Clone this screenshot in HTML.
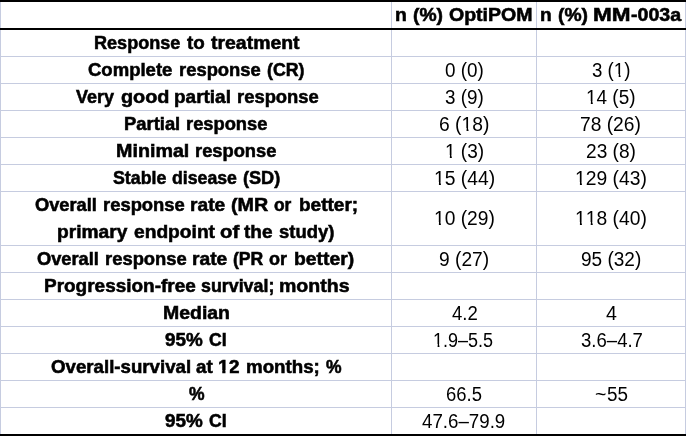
<!DOCTYPE html>
<html><head><meta charset="utf-8"><title>Table</title>
<style>
html,body{margin:0;padding:0;background:#fff;}
body{width:686px;height:436px;position:relative;overflow:hidden;font-family:"Liberation Sans",sans-serif;color:#000;}
.h{position:absolute;left:0;width:686px;height:1px;background:#c6cce0;}
.v{position:absolute;top:0;height:436px;width:1px;background:#c6cce0;}
.k{position:absolute;left:0;width:686px;height:2px;background:#000;}
#txt{position:absolute;left:0;top:0;width:686px;height:436px;will-change:transform;filter:grayscale(1);}
.t{position:absolute;white-space:nowrap;transform-origin:0 0;font-size:19.6px;line-height:26.6px;height:26.6px;}
.b{font-weight:bold;font-size:18.2px;line-height:28px;height:28px;-webkit-text-stroke:0.55px #000;}
.o,.ob{position:relative;display:inline-block;}
.o::before,.o::after,.ob::before,.ob::after{content:"";position:absolute;background:#fff;}
.o::before{left:0;width:0.2515em;top:17.2px;height:3.6px;}
.o::after{left:0.3398em;width:0.235em;top:17.2px;height:3.6px;}
.ob::before{left:-0.3px;width:calc(0.2334em - 0.275px + 0.3px);top:17px;height:3.9px;}
.ob::after{left:calc(0.3706em + 0.275px);width:0.21em;top:17px;height:3.9px;}
</style></head><body>

<div class="h" style="top:56px"></div>
<div class="h" style="top:83px"></div>
<div class="h" style="top:110px"></div>
<div class="h" style="top:137px"></div>
<div class="h" style="top:164px"></div>
<div class="h" style="top:191px"></div>
<div class="h" style="top:245px"></div>
<div class="h" style="top:272px"></div>
<div class="h" style="top:299px"></div>
<div class="h" style="top:326px"></div>
<div class="h" style="top:353px"></div>
<div class="h" style="top:380px"></div>
<div class="h" style="top:407px"></div>
<div class="v" style="left:0px"></div>
<div class="v" style="left:391px"></div>
<div class="v" style="left:536px"></div>
<div class="v" style="left:685px"></div>
<div class="k" style="top:0px"></div>
<div class="k" style="top:28px"></div>
<div class="k" style="top:434px"></div>
<div id="txt">
<div class="t b" style="left:395.10px;top:1px;transform:scaleX(1.0632)">n</div>
<div class="t b" style="left:412.87px;top:1px;transform:scaleX(1.0606)">(%)</div>
<div class="t b" style="left:448.56px;top:1px;transform:scaleX(1.0732)">OptiPOM</div>
<div class="t b" style="left:540.11px;top:1px;transform:scaleX(1.0526)">n</div>
<div class="t b" style="left:557.87px;top:1px;transform:scaleX(1.0606)">(%)</div>
<div class="t b" style="left:593.17px;top:1px;transform:scaleX(1.2383)">MM</div>
<div class="t b" style="left:631.33px;top:1px;transform:scaleX(1.0781)">-003a</div>
<div class="t b" style="left:94.35px;top:29px;transform:scaleX(0.9942)">Response</div>
<div class="t b" style="left:186.90px;top:29px;transform:scaleX(1.0328)">to</div>
<div class="t b" style="left:210.60px;top:29px;transform:scaleX(1.0687)">treatment</div>
<div class="t b" style="left:88.09px;top:56px;transform:scaleX(1.0183)">Complete</div>
<div class="t b" style="left:178.54px;top:56px;transform:scaleX(1.0119)">response</div>
<div class="t b" style="left:266.71px;top:56px;transform:scaleX(0.9772)">(CR)</div>
<div class="t b" style="left:75.95px;top:83px;transform:scaleX(0.9897)">Very</div>
<div class="t b" style="left:120.85px;top:83px;transform:scaleX(1.0907)">good</div>
<div class="t b" style="left:174.22px;top:83px;transform:scaleX(1.0427)">partial</div>
<div class="t b" style="left:236.84px;top:83px;transform:scaleX(1.0119)">response</div>
<div class="t b" style="left:124.44px;top:110px;transform:scaleX(1.0111)">Partial</div>
<div class="t b" style="left:186.34px;top:110px;transform:scaleX(1.0069)">response</div>
<div class="t b" style="left:116.29px;top:137px;transform:scaleX(1.0833)">Minimal</div>
<div class="t b" style="left:195.24px;top:137px;transform:scaleX(1.0069)">response</div>
<div class="t b" style="left:112.66px;top:164px;transform:scaleX(0.9778)">Stable</div>
<div class="t b" style="left:172.41px;top:164px;transform:scaleX(0.9727)">disease</div>
<div class="t b" style="left:243.10px;top:164px;transform:scaleX(0.9959)">(SD)</div>
<div class="t b" style="left:35.20px;top:191px;transform:scaleX(1.0041)">Overall</div>
<div class="t b" style="left:102.84px;top:191px;transform:scaleX(1.0119)">response</div>
<div class="t b" style="left:190.01px;top:191px;transform:scaleX(1.0543)">rate</div>
<div class="t b" style="left:231.26px;top:191px;transform:scaleX(1.0824)">(MR</div>
<div class="t b" style="left:274.46px;top:191px;transform:scaleX(0.9556)">or</div>
<div class="t b" style="left:299.22px;top:191px;transform:scaleX(1.0459)">better;</div>
<div class="t b" style="left:57.31px;top:218px;transform:scaleX(1.0536)">primary</div>
<div class="t b" style="left:134.04px;top:218px;transform:scaleX(1.0549)">endpoint</div>
<div class="t b" style="left:219.72px;top:218px;transform:scaleX(1.1188)">of</div>
<div class="t b" style="left:243.90px;top:218px;transform:scaleX(1.0444)">the</div>
<div class="t b" style="left:278.65px;top:218px;transform:scaleX(1.0140)">study)</div>
<div class="t b" style="left:37.30px;top:245px;transform:scaleX(1.0041)">Overall</div>
<div class="t b" style="left:104.94px;top:245px;transform:scaleX(1.0119)">response</div>
<div class="t b" style="left:192.11px;top:245px;transform:scaleX(1.0574)">rate</div>
<div class="t b" style="left:233.12px;top:245px;transform:scaleX(0.9677)">(PR</div>
<div class="t b" style="left:269.05px;top:245px;transform:scaleX(0.9889)">or</div>
<div class="t b" style="left:294.30px;top:245px;transform:scaleX(1.0624)">better)</div>
<div class="t b" style="left:43.52px;top:272px;transform:scaleX(1.0429)">Progression-free</div>
<div class="t b" style="left:200.85px;top:272px;transform:scaleX(0.9802)">survival;</div>
<div class="t b" style="left:278.89px;top:272px;transform:scaleX(1.0744)">months</div>
<div class="t b" style="left:162.60px;top:299px;transform:scaleX(1.0694)">Median</div>
<div class="t b" style="left:165.34px;top:326px;transform:scaleX(1.0361)">95%</div>
<div class="t b" style="left:209.12px;top:326px;transform:scaleX(0.9672)">CI</div>
<div class="t b" style="left:50.89px;top:353px;transform:scaleX(1.0267)">Overall-survival</div>
<div class="t b" style="left:196.14px;top:353px;transform:scaleX(1.0312)">at</div>
<div class="t b" style="left:218.23px;top:353px;transform:scaleX(1.0667)"><span class="ob">1</span>2</div>
<div class="t b" style="left:246.33px;top:353px;transform:scaleX(1.0288)">months;</div>
<div class="t b" style="left:325.70px;top:353px;transform:scaleX(0.9625)">%</div>
<div class="t b" style="left:188.60px;top:380px;transform:scaleX(0.9625)">%</div>
<div class="t b" style="left:165.34px;top:407px;transform:scaleX(1.0361)">95%</div>
<div class="t b" style="left:209.12px;top:407px;transform:scaleX(0.9672)">CI</div>
<div class="t" style="left:444.68px;top:57px;transform:scaleX(0.9636)">0 (0)</div>
<div class="t" style="left:444.98px;top:84px;transform:scaleX(0.9610)">3 (9)</div>
<div class="t" style="left:438.72px;top:111px;transform:scaleX(0.9837)">6 (<span class="o">1</span>8)</div>
<div class="t" style="left:444.60px;top:138px;transform:scaleX(0.9707)"><span class="o">1</span> (3)</div>
<div class="t" style="left:433.68px;top:165px;transform:scaleX(0.9840)"><span class="o">1</span>5 (44)</div>
<div class="t" style="left:433.68px;top:205px;transform:scaleX(0.9806)"><span class="o">1</span>0 (29)</div>
<div class="t" style="left:438.97px;top:246px;transform:scaleX(0.9787)">9 (27)</div>
<div class="t" style="left:451.53px;top:300px;transform:scaleX(0.9476)">4.2</div>
<div class="t" style="left:432.99px;top:327px;transform:scaleX(0.9190)"><span class="o">1</span>.9–5.5</div>
<div class="t" style="left:445.96px;top:381px;transform:scaleX(0.9425)">66.5</div>
<div class="t" style="left:421.52px;top:408px;transform:scaleX(0.9551)">47.6–79.9</div>
<div class="t" style="left:592.19px;top:57px;transform:scaleX(0.9532)">3 (<span class="o">1</span>)</div>
<div class="t" style="left:586.01px;top:84px;transform:scaleX(0.9679)"><span class="o">1</span>4 (5)</div>
<div class="t" style="left:580.42px;top:111px;transform:scaleX(0.9800)">78 (26)</div>
<div class="t" style="left:585.62px;top:138px;transform:scaleX(0.9755)">23 (8)</div>
<div class="t" style="left:574.58px;top:165px;transform:scaleX(0.9843)"><span class="o">1</span>29 (43)</div>
<div class="t" style="left:574.88px;top:205px;transform:scaleX(0.9836)"><span class="o">1</span><span class="o">1</span>8 (40)</div>
<div class="t" style="left:580.97px;top:246px;transform:scaleX(0.9710)">95 (32)</div>
<div class="t" style="left:606.10px;top:300px;transform:scaleX(1.0000)">4</div>
<div class="t" style="left:580.59px;top:327px;transform:scaleX(0.9475)">3.6–4.7</div>
<div class="t" style="left:594.95px;top:381px;transform:scaleX(1.0000)">~</div>
<div class="t" style="left:607.18px;top:381px;transform:scaleX(0.9630)">55</div>
</div>
</body></html>
